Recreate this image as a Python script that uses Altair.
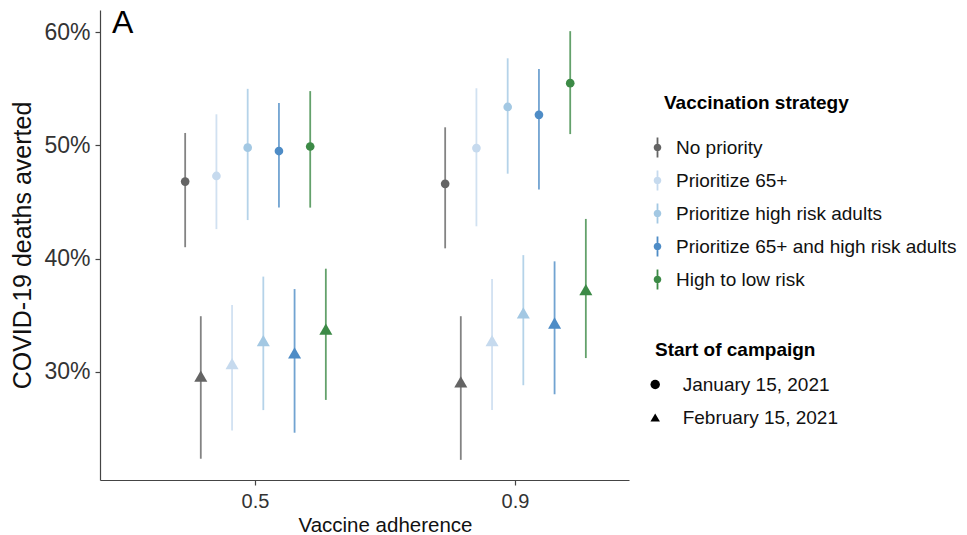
import altair as alt
import pandas as pd

strategies = ["No priority", "Prioritize 65+", "Prioritize high risk adults",
              "Prioritize 65+ and high risk adults", "High to low risk"]
campaigns = ["January 15, 2021", "February 15, 2021"]
adherence = ["0.5", "0.9"]
colors = ["#646464", "#c6daee", "#a3c8e3", "#4e8cc6", "#3c8a46"]

# percent deaths averted: point estimate, lower, upper
jan_05_mid = [46.8, 47.3, 49.8, 49.5, 49.9]
jan_05_lo = [41.0, 42.6, 43.4, 44.5, 44.5]
jan_05_hi = [51.1, 52.75, 55.0, 53.75, 54.8]
feb_05_mid = [29.6, 30.7, 32.75, 31.65, 33.75]
feb_05_lo = [22.3, 24.8, 26.6, 24.6, 27.5]
feb_05_hi = [34.9, 35.9, 38.4, 37.3, 39.1]
jan_09_mid = [46.6, 49.76, 53.4, 52.7, 55.5]
jan_09_lo = [40.9, 42.85, 47.5, 46.1, 51.0]
jan_09_hi = [51.6, 55.05, 57.7, 56.75, 60.1]
feb_09_mid = [29.1, 32.75, 35.2, 34.3, 37.25]
feb_09_lo = [22.2, 26.6, 28.8, 28.0, 31.2]
feb_09_hi = [34.9, 38.2, 40.3, 39.75, 43.5]

series = [
    ("0.5", 0, jan_05_mid, jan_05_lo, jan_05_hi),
    ("0.5", 1, feb_05_mid, feb_05_lo, feb_05_hi),
    ("0.9", 0, jan_09_mid, jan_09_lo, jan_09_hi),
    ("0.9", 1, feb_09_mid, feb_09_lo, feb_09_hi),
]
rows = []
for adh, ci, mids, los, his in series:
    for si, s in enumerate(strategies):
        rows.append({
            "adherence": adh,
            "strategy": s,
            "campaign": campaigns[ci],
            "grp": f"{si}{ci}",
            "mid": mids[si] / 100,
            "lo": los[si] / 100,
            "hi": his[si] / 100,
        })
df = pd.DataFrame(rows)
grp_domain = [f"{si}{ci}" for si in range(5) for ci in range(2)]

FONT = "Liberation Sans"

x_enc = alt.X("adherence:N",
              scale=alt.Scale(domain=adherence, paddingInner=0.3, paddingOuter=0.1673, align=0.7414),
              axis=alt.Axis(title="Vaccine adherence", labelAngle=0, labelFontSize=20,
                            titleFontSize=20.5, titleFontWeight="normal", tickSize=5,
                            labelPadding=6, titlePadding=4, titleX=285, titleAnchor="start",
                            titleAlign="center"))
xoff_enc = alt.XOffset("grp:N", scale=alt.Scale(domain=grp_domain, paddingInner=0, paddingOuter=0.822))
y_scale = alt.Scale(domain=[0.2042, 0.6197], nice=False, zero=False)
y_axis = alt.Axis(title="COVID-19 deaths averted", format=".0%", values=[0.3, 0.4, 0.5, 0.6],
                  labelFontSize=23, titleFontSize=25, titleFontWeight="normal", tickSize=5,
                  labelPadding=5, titlePadding=8, grid=False)

color_scale = alt.Scale(domain=strategies, range=colors)
glyph = ("M-0.18,-2L0.18,-2L0.18,2L-0.18,2Z "
         "M-0.76,0A0.76,0.76,0,1,1,0.76,0A0.76,0.76,0,1,1,-0.76,0Z")
color_legend = alt.Legend(title="Vaccination strategy", orient="none",
                          legendX=564, legendY=84, symbolType=glyph, symbolSize=100,
                          symbolOffset=-16, labelOffset=9, symbolStrokeWidth=0,
                          symbolOpacity=1,
                          titleFontSize=19, labelFontSize=19, titlePadding=25,
                          rowPadding=12, labelLimit=400, titleLimit=400)
color_enc = alt.Color("strategy:N", scale=color_scale, legend=color_legend)
shape_enc = alt.Shape("campaign:N",
                      scale=alt.Scale(domain=campaigns, range=["circle", "triangle-up"]),
                      legend=alt.Legend(title="Start of campaign", orient="none",
                                        legendX=555, legendY=331, symbolSize=90,
                                        symbolFillColor="black", symbolStrokeColor="black",
                                        symbolStrokeWidth=0, symbolOffset=-9.3, labelOffset=18,
                                        symbolOpacity=1,
                                        titleFontSize=19, labelFontSize=19, titlePadding=15,
                                        rowPadding=13, labelLimit=400))

base = alt.Chart(df)
rules = base.mark_rule(strokeWidth=1.8, opacity=0.8).encode(
    x=x_enc, xOffset=xoff_enc,
    y=alt.Y("lo:Q", scale=y_scale, axis=y_axis),
    y2="hi:Q",
    color=color_enc,
)
circles = base.transform_filter(alt.datum.campaign == campaigns[0]).mark_point(
    filled=True, opacity=1, strokeWidth=0, size=75).encode(
    x=x_enc, xOffset=xoff_enc,
    y=alt.Y("mid:Q", scale=y_scale, axis=y_axis),
    color=color_enc, shape=shape_enc,
)
triangles = base.transform_filter(alt.datum.campaign == campaigns[1]).mark_point(
    filled=True, opacity=1, strokeWidth=0, size=170).encode(
    x=x_enc, xOffset=xoff_enc,
    y=alt.Y("mid:Q", scale=y_scale, axis=y_axis),
    color=color_enc, shape=shape_enc,
)

chart = alt.layer(rules, circles, triangles).properties(
    width=529, height=470,
    padding={"left": 100, "top": 10, "right": 338, "bottom": 55},
    autosize=alt.AutoSizeParams(type="none"),
    background="white",
    title=alt.TitleParams("A", anchor="start", fontSize=32, font=FONT, fontWeight="normal",
                          color="black", offset=-55, dx=12, baseline="alphabetic", frame="group"),
).configure_view(stroke=None).configure_axis(
    labelFont=FONT, titleFont=FONT, labelColor="#333333", titleColor="#111111",
    domainColor="#444444", tickColor="#444444", domainWidth=1.2, tickWidth=1.2,
).configure_legend(
    labelFont=FONT, titleFont=FONT, labelColor="#111111", titleColor="#000000",
    titleFontWeight="bold", padding=0,
)

chart.save("out.html", embed_options={"renderer": "svg", "actions": False})
